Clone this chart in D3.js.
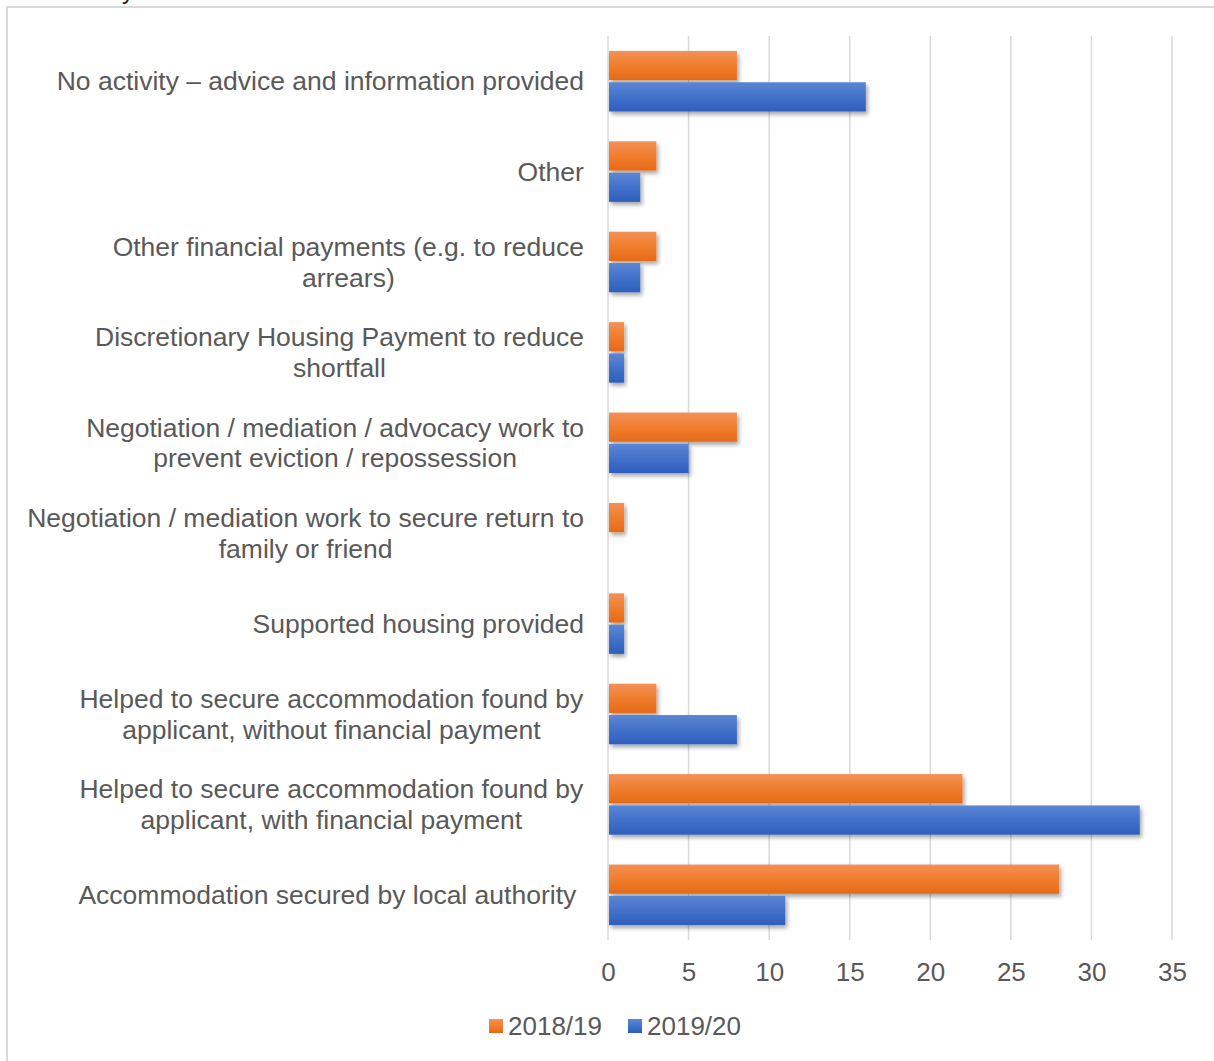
<!DOCTYPE html>
<html>
<head>
<meta charset="utf-8">
<script src="https://cdn.jsdelivr.net/npm/d3@7"></script>
<style>
  body { margin: 0; background: #fff; }
  svg { display: block; font-family: "Liberation Sans", Arial, sans-serif; }
</style>
</head>
<body>
<div class="chart"></div>
<script>
// categories, top to bottom (line breaks as in the picture)
var categories = [
  "No activity \u2013 advice and information provided",
  "Other",
  "Other financial payments (e.g. to reduce\narrears)",
  "Discretionary Housing Payment to reduce\nshortfall",
  "Negotiation / mediation / advocacy work to\nprevent eviction / repossession",
  "Negotiation / mediation work to secure return to\nfamily or friend",
  "Supported housing provided",
  "Helped to secure accommodation found by\napplicant, without financial payment",
  "Helped to secure accommodation found by\napplicant, with financial payment",
  "Accommodation secured by local authority"
];
var series = ["2018/19", "2019/20"];
var values_1819 = [8, 3, 3, 1, 8, 1, 1, 3, 22, 28];
var values_1920 = [16, 2, 2, 1, 5, 0, 1, 8, 33, 11];
var x_ticks = [0, 5, 10, 15, 20, 25, 30, 35];

var width = 1214, height = 1061;
var margin = {top: 36, left: 608};
var label_color = "#595959";

var svg = d3.select(".chart").append("svg")
  .attr("width", width)
  .attr("height", height);

// gradients + shadow
var defs = svg.append("defs");
var grads = [
  {id: "g_orange", top: "#F39158", mid: "#F07D2C", bot: "#E56A19"},
  {id: "g_blue", top: "#5C86D3", mid: "#4272CA", bot: "#2E5EBD"}
];
grads.forEach(function(g) {
  var lg = defs.append("linearGradient").attr("id", g.id)
    .attr("x1", 0).attr("y1", 0).attr("x2", 0).attr("y2", 1);
  lg.append("stop").attr("offset", "0%").attr("stop-color", g.top);
  lg.append("stop").attr("offset", "50%").attr("stop-color", g.mid);
  lg.append("stop").attr("offset", "100%").attr("stop-color", g.bot);
});
var f = defs.append("filter").attr("id", "shadow")
  .attr("x", "-10%").attr("y", "-20%").attr("width", "130%").attr("height", "160%");
f.append("feDropShadow").attr("dx", 2).attr("dy", 3).attr("stdDeviation", 2.2)
  .attr("flood-color", "#000").attr("flood-opacity", 0.35);

// outer frame (runs off the right and bottom edges)
svg.append("rect")
  .attr("x", 7).attr("y", 7)
  .attr("width", width + 20).attr("height", height + 20)
  .attr("fill", "none").attr("stroke", "#D9D9D9").attr("stroke-width", 2);

// caption above the frame, mostly cropped off in the picture
svg.append("text")
  .attr("x", 134).attr("y", -1)
  .attr("text-anchor", "end")
  .style("font-size", "24px")
  .attr("fill", "#222")
  .text("Activity");

var x = d3.scaleLinear().domain([0, 35]).range([0, 564]);
var y = d3.scaleBand().domain(categories).range([0, 904]).paddingInner(0.33).paddingOuter(0.165);
var y_inner = d3.scaleBand().domain(series).range([0, y.bandwidth()]).paddingInner(0.067);

var area = svg.append("g")
  .attr("transform", "translate(" + margin.left + "," + margin.top + ")");

// gridlines
area.append("g").selectAll("line")
  .data(x_ticks)
  .enter()
  .append("line")
    .attr("x1", function(d) { return x(d); })
    .attr("x2", function(d) { return x(d); })
    .attr("y1", 0)
    .attr("y2", 904)
    .attr("stroke", "#D9D9D9")
    .attr("stroke-width", 1.5);

// x axis labels
var x_axis = area.append("g")
  .attr("transform", "translate(0,904)")
  .call(d3.axisBottom(x).tickValues(x_ticks).tickSize(0).tickPadding(23));
x_axis.select(".domain").remove();
x_axis.selectAll("text")
  .attr("fill", label_color)
  .style("font-size", "26px")
  .style("font-family", "Liberation Sans, Arial, sans-serif");

// bars
var rows = categories.map(function(c, i) {
  return {cat: c, vals: [
    {s: series[0], v: values_1819[i], fill: "url(#g_orange)"},
    {s: series[1], v: values_1920[i], fill: "url(#g_blue)"}
  ]};
});

var groups = area.append("g").selectAll("g")
  .data(rows)
  .enter()
  .append("g")
    .attr("transform", function(d) { return "translate(0," + y(d.cat) + ")"; });

groups.selectAll("rect")
  .data(function(d) { return d.vals.filter(function(e) { return e.v > 0; }); })
  .enter()
  .append("rect")
    .attr("x", x(0) + 1)
    .attr("y", function(d) { return y_inner(d.s); })
    .attr("width", function(d) { return x(d.v) - x(0) - 1; })
    .attr("height", y_inner.bandwidth())
    .attr("fill", function(d) { return d.fill; })
    .attr("filter", "url(#shadow)");

// category labels
var line_h = 30.5;
var labels = area.append("g").selectAll("g")
  .data(categories)
  .enter()
  .append("g");

labels.each(function(c, k) {
  var lines = c.split("\n");
  var g = d3.select(this);
  var cy = y(c) + y.bandwidth() / 2;
  // last label sits a little further left in the picture
  var right = k === categories.length - 1 ? -31 : -24;
  var t = g.append("text")
    .attr("fill", label_color)
    .style("font-size", "26.5px")
    .attr("text-anchor", "middle");
  lines.forEach(function(l, i) {
    t.append("tspan")
      .attr("x", 0)
      .attr("y", cy + (i - (lines.length - 1) / 2) * line_h)
      .attr("dy", "0.35em")
      .text(l);
  });
  // right-align the whole block, lines centred on each other
  var bb = t.node().getBBox();
  t.attr("transform", "translate(" + (right - (bb.x + bb.width)) + ",0)");
});

// legend
var legend = svg.append("g")
  .attr("transform", "translate(489,1026)");
var legend_items = legend.selectAll("g")
  .data([{label: series[0], fill: "url(#g_orange)"}, {label: series[1], fill: "url(#g_blue)"}])
  .enter()
  .append("g")
    .attr("transform", function(d, i) { return "translate(" + (i * 139) + ",0)"; });
legend_items.append("rect")
  .attr("x", 0).attr("y", -7)
  .attr("width", 14).attr("height", 14)
  .attr("fill", function(d) { return d.fill; });
legend_items.append("text")
  .attr("x", 19)
  .attr("y", 0)
  .attr("dy", "0.35em")
  .attr("fill", label_color)
  .style("font-size", "26px")
  .text(function(d) { return d.label; });
</script>
</body>
</html>
